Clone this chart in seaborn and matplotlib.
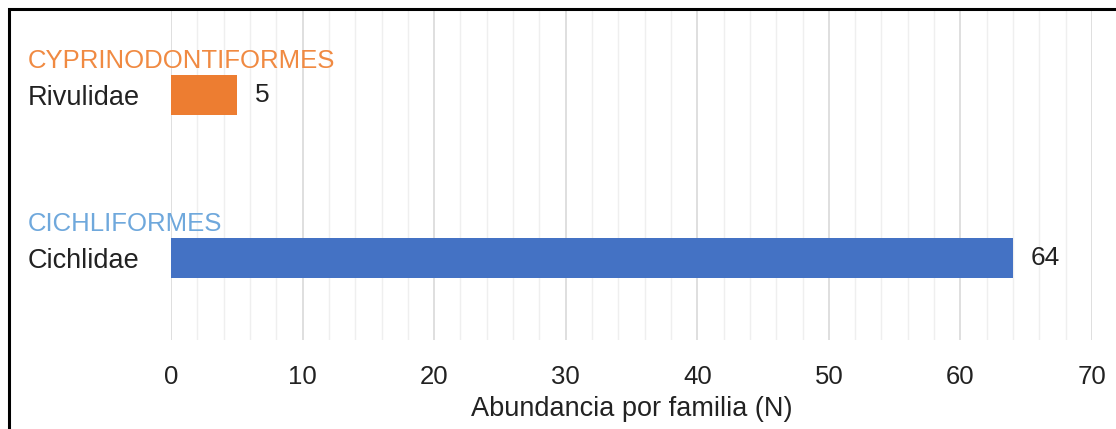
import matplotlib
matplotlib.use("Agg")
import matplotlib.pyplot as plt
from matplotlib.patches import Rectangle
from matplotlib.ticker import MultipleLocator
from matplotlib.transforms import blended_transform_factory
import seaborn as sns
import pandas as pd

# Data
families = ["Rivulidae", "Cichlidae"]
orders = ["CYPRINODONTIFORMES", "CICHLIFORMES"]
abundance = [5, 64]
bar_colors = ["#ED7D31", "#4472C4"]
order_colors = ["#F08A42", "#6FA8DC"]
x_ticks = [0, 10, 20, 30, 40, 50, 60, 70]
x_label = "Abundancia por familia (N)"

sns.set_theme(style="white")
plt.rcParams["font.family"] = ["Liberation Sans", "DejaVu Sans"]

W, H = 1116, 429
fig = plt.figure(figsize=(W / 100, H / 100), dpi=100)
ax = fig.add_axes([171 / W, 1 - 340 / H, (1092 - 171) / W, (340 - 11) / H])

df = pd.DataFrame({"family": families, "value": abundance})
sns.barplot(data=df, x="value", y="family", hue="family", palette=bar_colors,
            orient="h", width=0.24, dodge=False, legend=False, ax=ax,
            saturation=1, edgecolor="none")

for c in ax.containers:
    ax.bar_label(c, padding=13, fontsize=19, color="#222222")

ax.set_xlim(0, 70)
ax.set_ylim(1.503, -0.515)
ax.set_xticks(x_ticks)
ax.xaxis.set_minor_locator(MultipleLocator(2))
ax.grid(which="major", axis="x", color="#d9d9d9", linewidth=1.2)
ax.grid(which="minor", axis="x", color="#efefef", linewidth=1.0)
ax.set_axisbelow(True)
for s in ax.spines.values():
    s.set_visible(False)
ax.tick_params(axis="x", which="both", length=0, pad=18, labelsize=18.5, labelcolor="#222222")
ax.set_xlabel(x_label, fontsize=19.5, color="#222222", labelpad=5)

ax.set_ylabel("")
ax.set_yticks([0, 1])
ax.set_yticklabels(families)
ax.tick_params(axis="y", length=0, pad=103, labelsize=19.5, labelcolor="#222222")
for lbl in ax.get_yticklabels():
    lbl.set_horizontalalignment("left")

trans = blended_transform_factory(fig.transFigure, ax.transData)
for i, (o, col) in enumerate(zip(orders, order_colors)):
    ax.text(28 / W, i - 0.21, o, transform=trans, ha="left", va="center",
            fontsize=18.5, color=col, clip_on=False)

# outer frame
fig.patches.append(Rectangle((9 / W, -0.05), 1.2, 1 - 9 / H + 0.05,
                             transform=fig.transFigure, fill=False,
                             edgecolor="black", linewidth=2.2))

fig.savefig("out.png", dpi=100)
